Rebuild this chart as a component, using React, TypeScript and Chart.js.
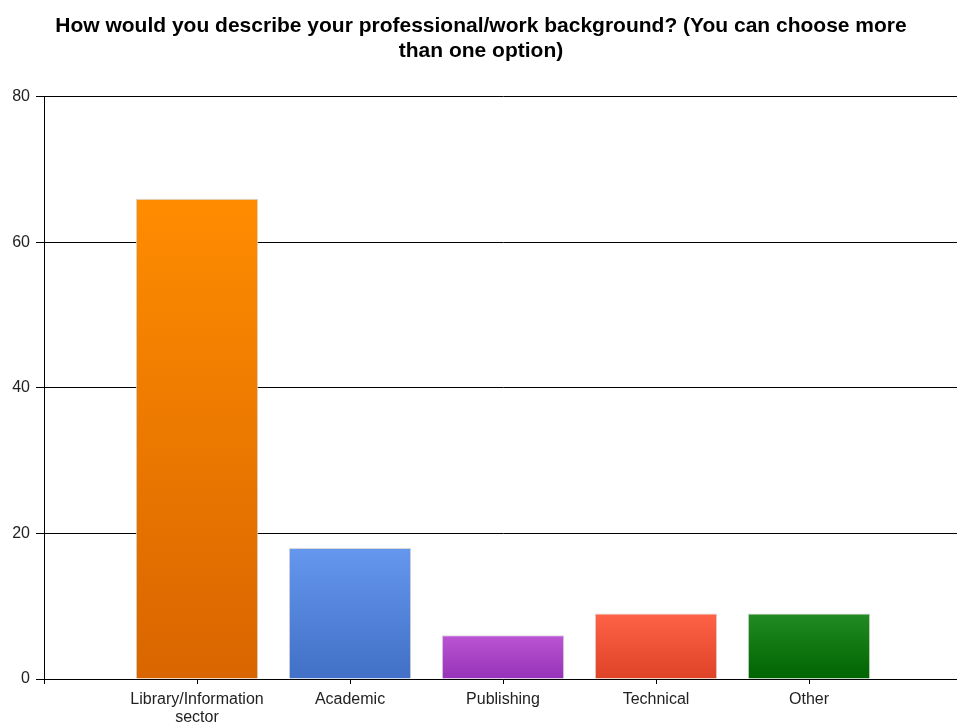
import React, { useEffect, useRef } from "react";
import { Chart, registerables } from "chart.js";

Chart.register(...registerables);

const titleLines = [
  "How would you describe your professional/work background? (You can choose more",
  "than one option)",
];
const categories: (string | string[])[] = [
  ["Library/Information", "sector"],
  "Academic",
  "Publishing",
  "Technical",
  "Other",
];
const counts = [66, 18, 6, 9, 9];
const topColors = ["#ff8c00", "#6597ee", "#bb55d4", "#ff6347", "#228b22"];
const bottomColors = ["#d96500", "#4170c6", "#9632b8", "#df4327", "#006400"];
const yTicks = [0, 20, 40, 60, 80];

export default function App() {
  const ref = useRef<HTMLCanvasElement | null>(null);

  useEffect(() => {
    if (!ref.current) return;
    // pad with empty slots on both ends so bars sit on whole-slot positions
    const labels = ["", ...categories, ""];
    const data = [null, ...counts, null];
    const chart = new Chart(ref.current, {
      type: "bar",
      data: {
        labels,
        datasets: [
          {
            data,
            categoryPercentage: 1,
            barPercentage: 0.8,
            borderColor: "#d8d8d8",
            borderWidth: 1,
            backgroundColor: (ctx: any) => {
              const i = ctx.dataIndex - 1;
              if (i < 0 || i >= counts.length) return "rgba(0,0,0,0)";
              const c = ctx.chart;
              const ys = c.scales && c.scales.y;
              if (!c.chartArea || !ys) return topColors[i];
              const t = ys.getPixelForValue(counts[i]);
              const b = ys.getPixelForValue(0);
              const g = c.ctx.createLinearGradient(0, t, 0, b);
              g.addColorStop(0, topColors[i]);
              g.addColorStop(1, bottomColors[i]);
              return g;
            },
          },
        ],
      },
      options: {
        animation: false,
        responsive: true,
        maintainAspectRatio: false,
        layout: { padding: { left: 0, right: 0, top: 0, bottom: 0 } },
        plugins: {
          legend: { display: false },
          tooltip: { enabled: false },
          title: {
            display: true,
            text: titleLines,
            color: "#000",
            font: { family: "'Liberation Sans', Arial, sans-serif", size: 21, weight: "bold", lineHeight: 1.19 },
            padding: { top: 14, bottom: 33 },
          },
        },
        scales: {
          x: {
            offset: false,
            grid: { display: true, offset: false, drawOnChartArea: false, drawTicks: true, tickLength: 5, color: "#000" },
            border: { display: true, color: "#000", width: 1 },
            ticks: {
              color: "#222",
              autoSkip: false,
              maxRotation: 0,
              minRotation: 0,
              padding: 6,
              font: { family: "'Liberation Sans', Arial, sans-serif", size: 16, lineHeight: 1.15 },
            },
            afterFit: (s: any) => {
              s.height = 43;
              s.paddingLeft = 0;
              s.paddingRight = 0;
            },
          },
          y: {
            min: 0,
            max: 80,
            afterBuildTicks: (s: any) => {
              s.ticks = yTicks.map((v) => ({ value: v }));
            },
            grid: { color: "#000", tickLength: 8, drawTicks: true },
            border: { display: true, color: "#000", width: 1 },
            ticks: {
              color: "#222",
              padding: 6,
              font: { family: "'Liberation Sans', Arial, sans-serif", size: 16 },
            },
            afterFit: (s: any) => {
              s.width = 44;
            },
          },
        },
      },
    } as any);
    return () => chart.destroy();
  }, []);

  return (
    <div style={{ position: "fixed", left: 0, top: 0, width: 957, height: 722, overflow: "hidden", background: "#fff" }}>
      <div style={{ position: "relative", width: 962, height: 722 }}>
        <canvas ref={ref} />
      </div>
    </div>
  );
}
